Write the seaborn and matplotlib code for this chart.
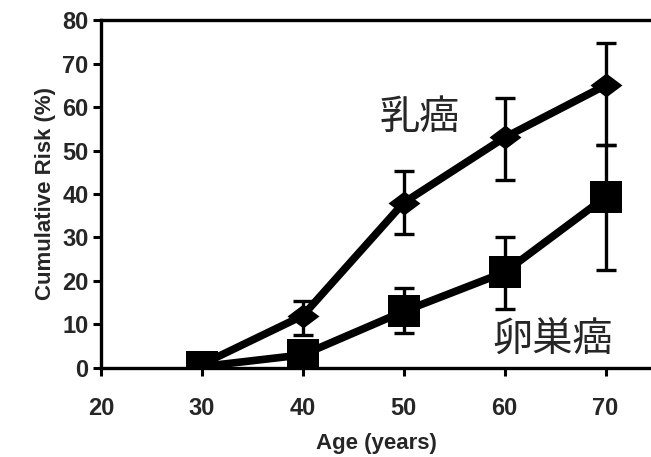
import numpy as np
import pandas as pd
import matplotlib
matplotlib.use('Agg')
import matplotlib.pyplot as plt
from matplotlib.path import Path
import seaborn as sns

# données
ages = [30, 40, 50, 60, 70]
breast_risk = [0.8, 12, 38, 53, 65]
breast_low = [0.8, 7.6, 30.8, 43.2, 51.3]
breast_high = [0.8, 15.5, 45.3, 62, 74.7]
ovarian_risk = [0.3, 3, 13, 22, 39.3]
ovarian_low = [0.3, 3, 8, 13.5, 22.5]
ovarian_high = [0.3, 3, 18.4, 30, 51.3]
x_ticks = [20, 30, 40, 50, 60, 70]
y_ticks = [0, 10, 20, 30, 40, 50, 60, 70, 80]

sns.set_theme(style='ticks')
plt.rcParams['font.family'] = ['Liberation Sans', 'DejaVu Sans']

df = pd.DataFrame({
    'Age': ages * 2,
    'Risk': breast_risk + ovarian_risk,
    'Cancer': ['乳癌'] * 5 + ['卵巣癌'] * 5,
})

fig = plt.figure(figsize=(6.51, 4.57), dpi=100)
ax = fig.add_axes([0.155, 0.195, 0.845, 0.761])

# losange aplati
diamond = Path([(-1, 0), (0, 0.75), (1, 0), (0, -0.75), (-1, 0)],
               [Path.MOVETO, Path.LINETO, Path.LINETO, Path.LINETO, Path.CLOSEPOLY])

for lo, hi, val in [(breast_low, breast_high, breast_risk),
                    (ovarian_low, ovarian_high, ovarian_risk)]:
    yerr = [np.array(val) - np.array(lo), np.array(hi) - np.array(val)]
    ax.errorbar(ages, val, yerr=yerr, fmt='none', ecolor='black',
                elinewidth=2.4, capsize=7, capthick=2.4, zorder=2)

sns.lineplot(data=df, x='Age', y='Risk', hue='Cancer', style='Cancer',
             markers={'乳癌': diamond, '卵巣癌': 's'}, dashes=False,
             palette={'乳癌': 'black', '卵巣癌': 'black'},
             linewidth=5.5, markersize=23, markeredgewidth=0,
             legend=False, ax=ax, zorder=3)

cjk = ['Noto Sans CJK JP', 'DejaVu Sans']
ax.text(51.6, 57.5, '乳癌', fontsize=29, ha='center', va='center', family=cjk)
ax.text(64.8, 6.3, '卵巣癌', fontsize=29, ha='center', va='center', family=cjk)

ax.set_xlim(20, 74.5)
ax.set_ylim(0, 80)
ax.set_xticks(x_ticks)
ax.set_yticks(y_ticks)
ax.set_xlabel('Age (years)', fontsize=16, fontweight='bold', labelpad=9)
ax.set_ylabel('Cumulative Risk (%)', fontsize=16, fontweight='bold', labelpad=4)
for lab in ax.get_xticklabels() + ax.get_yticklabels():
    lab.set_fontweight('bold')
    lab.set_fontsize(17)
ax.tick_params(axis='both', direction='out', length=6, width=2.2, color='black', pad=3)
ax.tick_params(axis='x', pad=15)
for s in ['left', 'bottom', 'top']:
    ax.spines[s].set_linewidth(2.4)
    ax.spines[s].set_color('black')
ax.spines['right'].set_visible(False)

fig.savefig('out.png', dpi=100)
